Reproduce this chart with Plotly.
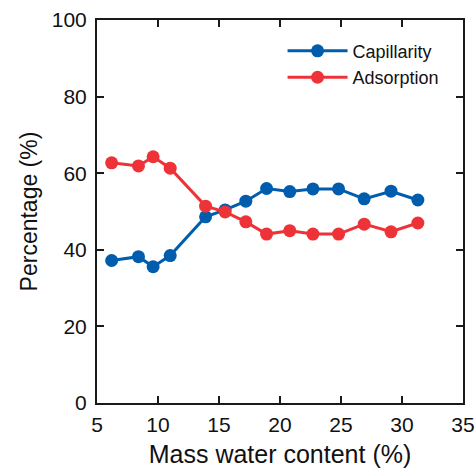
import plotly.graph_objects as go

# Mass water content (%) for each sample
water_content = [6.2, 8.4, 9.6, 11.0, 13.9, 15.5, 17.2, 18.9, 20.8, 22.7, 24.8, 26.9, 29.1, 31.3]

# Share of each water retention mechanism (%)
capillarity = [37.2, 38.2, 35.6, 38.5, 48.6, 50.4, 52.7, 56.0, 55.2, 55.9, 55.9, 53.3, 55.3, 53.0]
adsorption = [62.7, 61.9, 64.3, 61.3, 51.4, 49.9, 47.3, 44.1, 45.0, 44.1, 44.1, 46.7, 44.7, 47.0]

x_ticks = [5, 10, 15, 20, 25, 30, 35]
y_ticks = [0, 20, 40, 60, 80, 100]

BLUE = "#005DAE"
RED = "#EE3338"
FONT = "Liberation Sans, Arial, sans-serif"
INK = "#111111"

fig = go.Figure()
fig.add_trace(go.Scatter(
    x=water_content, y=capillarity, name="Capillarity",
    mode="lines+markers",
    line=dict(color=BLUE, width=3),
    marker=dict(color=BLUE, size=13),
))
fig.add_trace(go.Scatter(
    x=water_content, y=adsorption, name="Adsorption",
    mode="lines+markers",
    line=dict(color=RED, width=3),
    marker=dict(color=RED, size=13),
))

axis_common = dict(
    showgrid=False, zeroline=False, automargin=False,
    showline=True, linecolor="#1a1a1a", linewidth=2, mirror="ticks",
    ticks="inside", ticklen=7, tickwidth=1.5, tickcolor="#1a1a1a",
    tickfont=dict(family=FONT, size=21, color=INK),
)

fig.update_xaxes(
    range=[5, 35], tickvals=x_ticks, ticklabelstandoff=2,
    title=dict(text="Mass water content (%)", font=dict(family=FONT, size=25, color=INK), standoff=14),
    **axis_common,
)
fig.update_yaxes(
    range=[0, 100], tickvals=y_ticks, ticklabelstandoff=4,
    title=dict(text="Percentage (%)", font=dict(family=FONT, size=23, color=INK), standoff=8),
    **axis_common,
)

fig.update_layout(
    width=475, height=468,
    margin=dict(l=97, r=12, t=20, b=65),
    paper_bgcolor="white", plot_bgcolor="white",
    font=dict(family=FONT, color=INK),
    legend=dict(
        x=0.507, y=0.967, xanchor="left", yanchor="top",
        bgcolor="rgba(0,0,0,0)",
        font=dict(family=FONT, size=18, color=INK),
        itemwidth=60, tracegroupgap=0,
    ),
    showlegend=True,
)

fig.write_html("out.html")
